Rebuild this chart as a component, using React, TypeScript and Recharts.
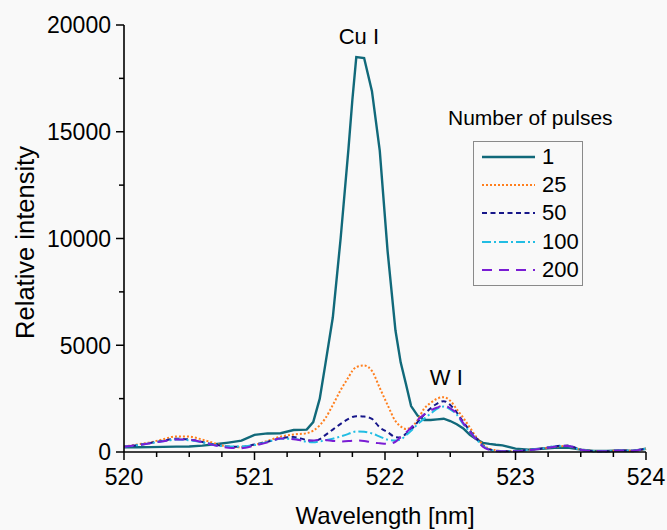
import { Legend, Line, LineChart, ReferenceDot, XAxis, YAxis } from 'recharts'

const FONT = '"Liberation Sans", Arial, Helvetica, sans-serif'

const wavelengths = [
  520.0, 520.1, 520.2, 520.3, 520.4, 520.5, 520.6, 520.7, 520.8, 520.9,
  521.0, 521.1, 521.2, 521.3, 521.4, 521.45, 521.5, 521.54, 521.6, 521.66,
  521.72, 521.75, 521.78, 521.84, 521.9, 521.96, 522.02, 522.08, 522.12, 522.16,
  522.2, 522.25, 522.3, 522.35, 522.4, 522.45, 522.5, 522.55, 522.6, 522.65,
  522.7, 522.75, 522.8, 522.85, 522.9, 523.0, 523.1, 523.2, 523.3, 523.4,
  523.5, 523.6, 523.7, 523.8, 523.9, 524.0,
]

const pulses1 = [
  220, 220, 230, 240, 250, 260, 300, 360, 440, 530,
  800, 870, 880, 1030, 1050, 1400, 2500, 4000, 6300, 10000,
  14200, 16500, 18500, 18450, 16900, 14100, 9400, 5700, 4200, 3200,
  2150, 1700, 1500, 1500, 1530, 1560, 1450, 1300, 1100, 800,
  600, 430, 380, 340, 310, 160, 110, 150, 200, 210,
  110, 50, 50, 75, 50, 150,
]

const pulses25 = [
  250, 350, 450, 600, 730, 720, 580, 400, 240, 220,
  330, 520, 720, 820, 880, 1000, 1250, 1550, 2200, 2900,
  3500, 3800, 3980, 4050, 3800, 3000, 2200, 1450, 1200, 1080,
  1150, 1500, 2030, 2300, 2500, 2570, 2400, 2000, 1600, 1150,
  700, 350, 150, 80, 50, 50, 100, 160, 250, 280,
  110, 50, 40, 75, 60, 150,
]

const pulses50 = [
  250, 320, 420, 530, 620, 590, 470, 330, 260, 240,
  350, 480, 640, 700, 560, 520, 600, 780, 1050, 1320,
  1550, 1640, 1680, 1660, 1550, 1150, 930, 700, 680, 850,
  1050, 1400, 1750, 2050, 2270, 2380, 2200, 1850, 1400, 1000,
  650, 300, 120, 60, 40, 40, 100, 160, 270, 300,
  110, 40, 30, 75, 60, 170,
]

const pulses100 = [
  250, 320, 410, 500, 580, 550, 450, 320, 260, 260,
  330, 470, 620, 620, 480, 460, 500, 540, 620, 730,
  850, 920, 960, 950, 870, 720, 580, 540, 580, 780,
  1000, 1300, 1560, 1800, 2030, 2130, 2000, 1750, 1300, 950,
  600, 280, 110, 50, 40, 40, 100, 160, 260, 280,
  110, 40, 30, 75, 60, 160,
]

const pulses200 = [
  250, 320, 410, 500, 590, 570, 460, 300, 200, 180,
  300, 450, 630, 600, 520, 540, 570, 560, 520, 490,
  510, 530, 540, 520, 450, 410, 380, 480, 700, 900,
  1150, 1500, 1750, 1950, 2080, 2180, 2050, 1800, 1350, 950,
  580, 250, 100, 40, 30, 30, 90, 150, 250, 280,
  110, 40, 30, 75, 60, 190,
]

const seriesNames = ['1', '25', '50', '100', '200']
const seriesValues = [pulses1, pulses25, pulses50, pulses100, pulses200]
const seriesColors = ['#11697a', '#ff7f1e', '#17178a', '#22bde3', '#7a1dd4']
const seriesDashes = ['', '2 2', '5 3.5', '9 3 2 3', '10 7']
const seriesWidths = [2.4, 2, 2, 2, 2]

const xTicks = [
  520, 520.25, 520.5, 520.75, 521, 521.25, 521.5, 521.75, 522, 522.25, 522.5, 522.75,
  523, 523.25, 523.5, 523.75, 524,
]
const xLabels = [520, 521, 522, 523, 524]
const yTicks = [0, 2500, 5000, 7500, 10000, 12500, 15000, 17500, 20000]
const yLabels = [0, 5000, 10000, 15000, 20000]

const data = wavelengths.map((wl, i) => {
  const row: Record<string, number> = { wl }
  seriesNames.forEach((name, s) => {
    row[name] = seriesValues[s][i]
  })
  return row
})

const XTick = (props: any) => {
  const { x, y, payload } = props
  const major = xLabels.includes(payload.value)
  return (
    <g>
      <line x1={x} x2={x} y1={y} y2={y + (major ? 8 : 5)} stroke="#000" strokeWidth={1.5} />
      {major && (
        <text x={x} y={y + 33} textAnchor="middle" fontSize={23} fontFamily={FONT} fill="#000">
          {payload.value}
        </text>
      )}
    </g>
  )
}

const YTick = (props: any) => {
  const { x, y, payload } = props
  const major = yLabels.includes(payload.value)
  return (
    <g>
      <line x1={x - (major ? 8 : 5)} x2={x} y1={y} y2={y} stroke="#000" strokeWidth={1.5} />
      {major && (
        <text x={x - 13} y={y} dy="0.36em" textAnchor="end" fontSize={23} fontFamily={FONT} fill="#000">
          {payload.value}
        </text>
      )}
    </g>
  )
}

const renderLegend = () => (
  <div style={{ fontFamily: FONT, color: '#000' }}>
    <div style={{ fontSize: 21, lineHeight: '24px' }}>Number of pulses</div>
    <div
      style={{
        marginTop: 11,
        marginLeft: 25,
        width: 110,
        border: '1px solid #8a8a8a',
        padding: '1px 0 1px 8px',
        boxSizing: 'border-box',
      }}
    >
      {seriesNames.map((name, i) => (
        <div key={name} style={{ display: 'flex', alignItems: 'center', height: 28.2 }}>
          <svg width={53} height={10}>
            <line
              x1={0}
              x2={53}
              y1={5}
              y2={5}
              stroke={seriesColors[i]}
              strokeWidth={seriesWidths[i]}
              strokeDasharray={seriesDashes[i] || undefined}
            />
          </svg>
          <span style={{ marginLeft: 7, fontSize: 22, lineHeight: '24px' }}>{name}</span>
        </div>
      ))}
    </div>
  </div>
)

function App() {
  return (
    <div style={{ width: 667, height: 530, background: '#f9f9f9' }}>
      <style>{'body{margin:0}'}</style>
      <LineChart
        width={667}
        height={530}
        data={data}
        margin={{ top: 25, right: 21, bottom: 0, left: 0 }}
      >
        <XAxis
          dataKey="wl"
          type="number"
          domain={[520, 524]}
          ticks={xTicks}
          interval={0}
          height={78}
          tickSize={0}
          tickMargin={0}
          tickLine={false}
          tick={<XTick />}
          axisLine={{ stroke: '#000', strokeWidth: 1.6 }}
          label={{
            value: 'Wavelength [nm]',
            position: 'center',
            dy: 24,
            fontSize: 24,
            fontFamily: FONT,
            fill: '#000',
          }}
        />
        <YAxis
          type="number"
          domain={[0, 20000]}
          ticks={yTicks}
          interval={0}
          width={124}
          tickSize={0}
          tickMargin={0}
          tickLine={false}
          tick={<YTick />}
          axisLine={{ stroke: '#000', strokeWidth: 1.6 }}
          label={{
            value: 'Relative intensity',
            angle: -90,
            position: 'center',
            dx: -37,
            dy: 4,
            fontSize: 25.5,
            fontFamily: FONT,
            fill: '#000',
          }}
        />
        {seriesNames.map((name, i) => (
          <Line
            key={name}
            dataKey={name}
            type={i === 0 ? 'linear' : 'monotone'}
            stroke={seriesColors[i]}
            strokeWidth={seriesWidths[i]}
            strokeDasharray={seriesDashes[i] || undefined}
            dot={false}
            activeDot={false}
            isAnimationActive={false}
          />
        ))}
        <ReferenceDot
          x={521.8}
          y={19460}
          r={0}
          label={{ value: 'Cu I', position: 'center', fontSize: 22, fontFamily: FONT, fill: '#000' }}
        />
        <ReferenceDot
          x={522.47}
          y={3510}
          r={0}
          label={{ value: 'W I', position: 'center', fontSize: 22, fontFamily: FONT, fill: '#000' }}
        />
        <Legend
          layout="horizontal"
          verticalAlign="middle"
          align="center"
          content={renderLegend}
          wrapperStyle={{ position: 'absolute', left: 448, top: 106, width: 180, height: 'auto' }}
        />
      </LineChart>
    </div>
  )
}

export default App
